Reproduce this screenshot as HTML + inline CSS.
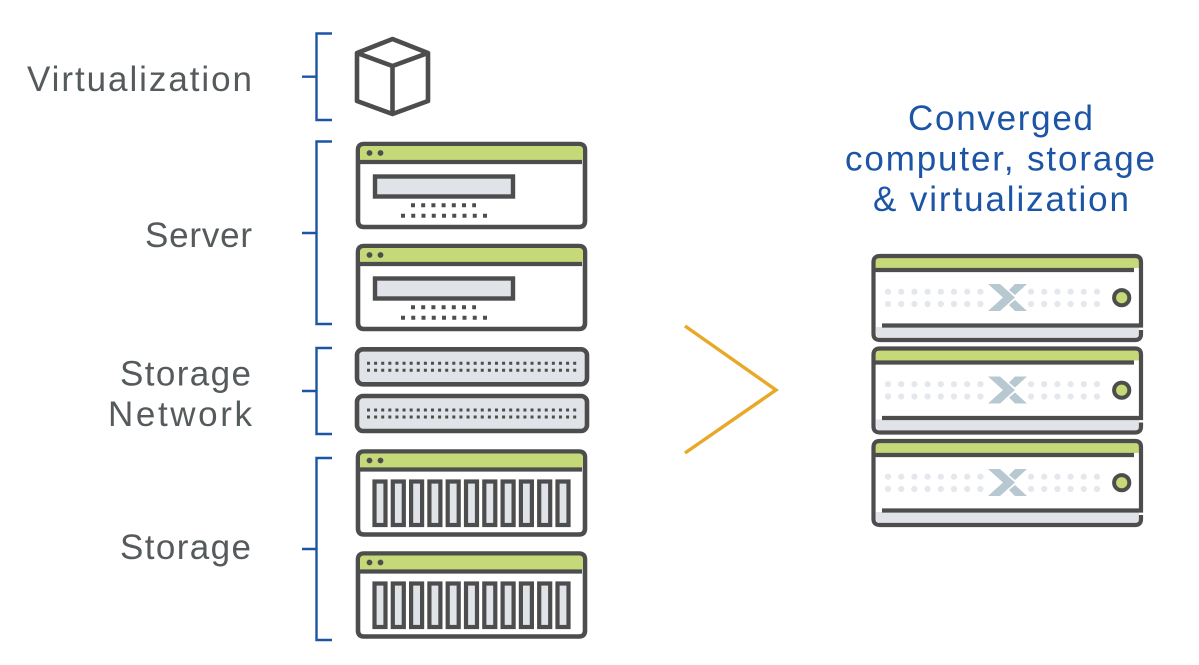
<!DOCTYPE html>
<html lang="en">
<head>
<meta charset="utf-8">
<title>Converged computer, storage and virtualization</title>
<style>
html,body{margin:0;padding:0;background:#fff;width:1199px;height:665px;overflow:hidden}
svg{display:block}
text{font-family:"Liberation Sans",sans-serif;font-size:35px}
.l{fill:#555a5c}
.b{fill:#1c55a5}
</style>
</head>
<body>
<svg width="1199" height="665" viewBox="0 0 1199 665" xmlns="http://www.w3.org/2000/svg">
<defs>
<g id="top">
<path d="M358 162V150Q358 144 364 144H579Q585 144 585 150V221Q585 227 579 227H364Q358 227 358 221V162" fill="#fff" stroke="#4d4d4d" stroke-width="4.600"/>
<path d="M360 160V150Q360 146 364 146H579Q583 146 583 150V160Z" fill="#c5d978"/>
<path d="M356 162H582" stroke="#4d4d4d" stroke-width="4.200" fill="none"/>
<circle cx="369.500" cy="153" r="2.900" fill="#4d4d4d"/>
<circle cx="380.500" cy="153" r="2.900" fill="#4d4d4d"/>
</g>
<g id="server">
<use href="#top"/>
<rect x="375" y="176.500" width="138" height="20" fill="#e0e3e8" stroke="#4d4d4d" stroke-width="4.400"/>
<path d="M411 205.300H476" stroke="#4d4d4d" stroke-width="4" stroke-dasharray="4 6.200" fill="none"/>
<path d="M401 215.700H487" stroke="#4d4d4d" stroke-width="4" stroke-dasharray="4 6.250" fill="none"/>
</g>
<g id="net">
<rect x="357" y="349.300" width="230" height="35" rx="6" fill="#e0e3e8" stroke="#4d4d4d" stroke-width="4.600"/>
<path d="M367 363.300H577M367 370.300H577" stroke="#4d4d4d" stroke-width="3" stroke-dasharray="3 4.110" fill="none"/>
</g>
<rect id="bar" x="374.500" y="481.500" width="11" height="43.500" fill="#e0e3e8" stroke="#4d4d4d" stroke-width="4.200"/>
<g id="storage">
<use href="#top" y="307.500"/>
<use href="#bar"/><use href="#bar" x="18.300"/><use href="#bar" x="36.600"/><use href="#bar" x="54.900"/>
<use href="#bar" x="73.200"/><use href="#bar" x="91.500"/><use href="#bar" x="109.800"/><use href="#bar" x="128.100"/>
<use href="#bar" x="146.400"/><use href="#bar" x="164.700"/><use href="#bar" x="183"/>
</g>
<g id="node">
<path d="M876 327H1139V333Q1139 338 1134 338H880Q876 338 876 333Z" fill="#e0e3e8"/>
<path d="M875.500 268V262Q875.500 258 880 258H1134Q1139 258 1139 262V268Z" fill="#c5d978"/>
<path d="M873.500 270V262Q873.500 256 880 256H1135Q1141 256 1141 262V325.500H882" fill="none" stroke="#4d4d4d" stroke-width="4.200"/>
<path d="M873 270H1134" fill="none" stroke="#4d4d4d" stroke-width="4.200"/>
<path d="M873.500 270V334Q873.500 340 880 340H1135Q1141 340 1141 334V330" fill="none" stroke="#4d4d4d" stroke-width="4.200"/>
<g fill="#e4e7ec">
<circle cx="888" cy="291.700" r="3.100"/><circle cx="901.200" cy="291.700" r="3.100"/><circle cx="914.400" cy="291.700" r="3.100"/><circle cx="927.600" cy="291.700" r="3.100"/><circle cx="940.800" cy="291.700" r="3.100"/><circle cx="954" cy="291.700" r="3.100"/><circle cx="967.200" cy="291.700" r="3.100"/><circle cx="980.400" cy="291.700" r="3.100"/>
<circle cx="1031" cy="291.700" r="3.100"/><circle cx="1044.200" cy="291.700" r="3.100"/><circle cx="1057.400" cy="291.700" r="3.100"/><circle cx="1070.600" cy="291.700" r="3.100"/><circle cx="1083.800" cy="291.700" r="3.100"/><circle cx="1097" cy="291.700" r="3.100"/>
<circle cx="888" cy="304" r="3.100"/><circle cx="901.200" cy="304" r="3.100"/><circle cx="914.400" cy="304" r="3.100"/><circle cx="927.600" cy="304" r="3.100"/><circle cx="940.800" cy="304" r="3.100"/><circle cx="954" cy="304" r="3.100"/><circle cx="967.200" cy="304" r="3.100"/><circle cx="980.400" cy="304" r="3.100"/>
<circle cx="1031" cy="304" r="3.100"/><circle cx="1044.200" cy="304" r="3.100"/><circle cx="1057.400" cy="304" r="3.100"/><circle cx="1070.600" cy="304" r="3.100"/><circle cx="1083.800" cy="304" r="3.100"/><circle cx="1097" cy="304" r="3.100"/>
</g>
<path d="M988 284H1000L1015 297.500L1000 311H988L1003 297.500ZM1015 284H1027L1015 295L1009 290ZM1009 305L1015 300L1027 311H1015Z" fill="#b8c8d0"/>
<circle cx="1121.700" cy="297.700" r="7.600" fill="#c5d978" stroke="#4d4d4d" stroke-width="4"/>
</g>
</defs>

<rect width="1199" height="665" fill="#fff"/>

<g fill="none" stroke="#1c55a5" stroke-width="2.400">
<path d="M332 33.500H316.500V120H332M302 76.700H316.500"/>
<path d="M332 141.500H316.500V324H332M302 233H316.500"/>
<path d="M332 348H316.500V434H332M302 391H316.500"/>
<path d="M332 458H316.500V640H332M302 549H316.500"/>
</g>

<path d="M392.500 39L428 53V101L392.500 114L357 101V53ZM357 53L392.500 66L428 53M392.500 66V114" fill="#fff" stroke="#4d4d4d" stroke-width="4.600" stroke-linejoin="round"/>

<use href="#server"/>
<use href="#server" y="102"/>
<use href="#net"/>
<use href="#net" y="46.700"/>
<use href="#storage"/>
<use href="#storage" y="102"/>

<path d="M685 326L776 390L685 453" fill="none" stroke="#e8a828" stroke-width="3.400"/>

<use href="#node"/>
<use href="#node" y="92.500"/>
<use href="#node" y="185"/>

<text class="l" x="27" y="91" textLength="225">Virtualization</text>
<text class="l" x="145" y="247" textLength="107">Server</text>
<text class="l" x="120" y="385.500" textLength="131">Storage</text>
<text class="l" x="108" y="426" textLength="144">Network</text>
<text class="l" x="120" y="559" textLength="131">Storage</text>
<text class="b" x="908" y="130" textLength="185">Converged</text>
<text class="b" x="845" y="170.500" textLength="310">computer, storage</text>
<text class="b" x="873" y="211" textLength="256">&amp; virtualization</text>
</svg>
</body>
</html>
